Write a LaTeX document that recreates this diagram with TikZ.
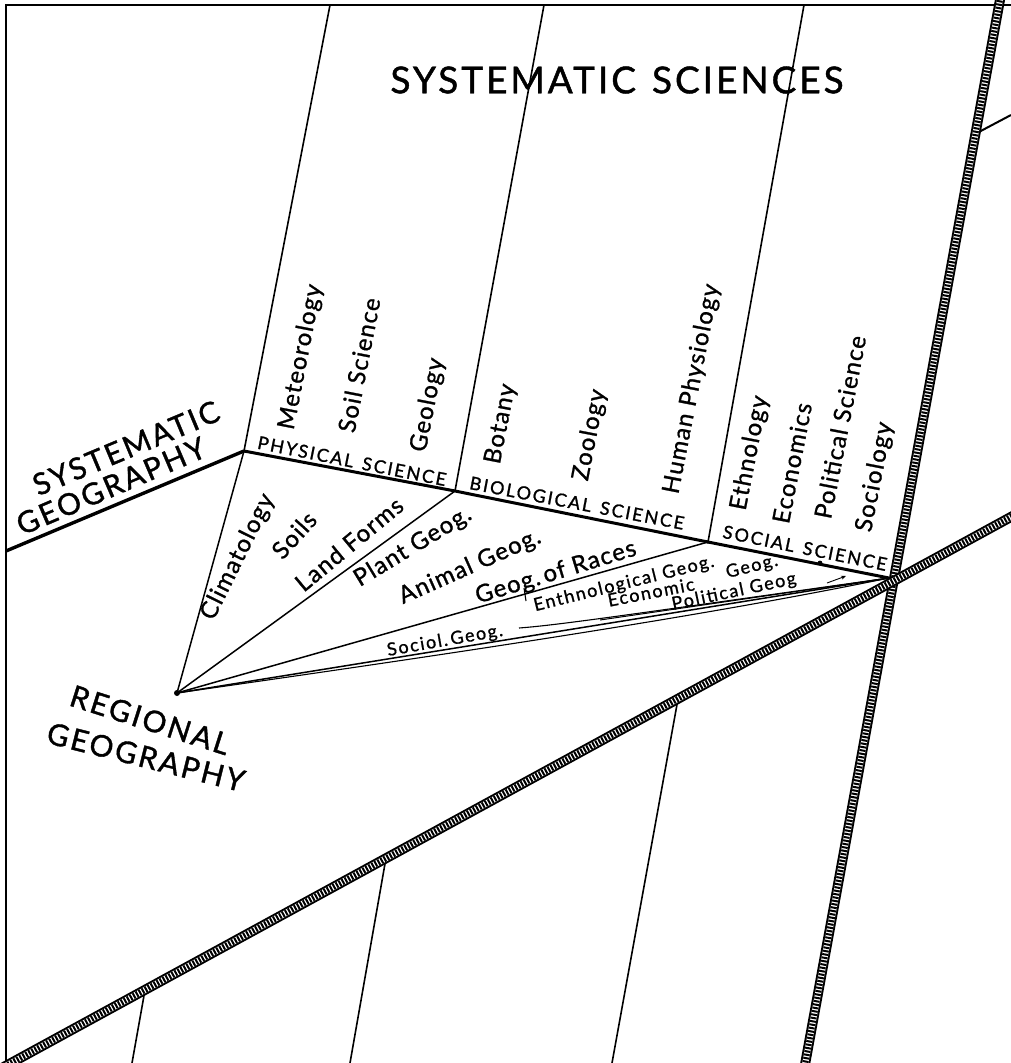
\documentclass[tikz,border=0pt]{standalone}
\usepackage{fontspec}
\setmainfont{Lato}
\newfontfamily\capfont[LetterSpace=8,FakeBold=1.2]{Lato}
\newfontfamily\smcapfont[LetterSpace=11,FakeBold=1.2]{Lato}
\newfontfamily\labfont[LetterSpace=5,FakeBold=1.0]{Lato}
\newfontfamily\smlabfont[LetterSpace=9,FakeBold=1.0]{Lato}
\usetikzlibrary{arrows.meta}
\newcommand\ropeline[2]{%
  \draw[line width=10pt] (#1)--(#2);
  \draw[white,line width=6pt] (#1)--(#2);
  \draw[line width=6pt,dash pattern=on 2pt off 1.4pt] (#1)--(#2);}
\tikzset{
  frameline/.style={line width=2.4pt},
  thinline/.style={line width=1.6pt},
  boldline/.style={line width=3pt, line join=round},
  fanline/.style={line width=1.5pt},
  bigcap/.style={inner sep=0pt, font=\capfont\fontsize{37}{37}\selectfont},
  geo/.style={inner sep=0pt, font=\capfont\fontsize{30}{30}\selectfont},
  sci/.style={inner sep=0pt, font=\smcapfont\fontsize{18}{18}\selectfont},
  lab/.style={inner sep=0pt, font=\labfont\fontsize{24}{24}\selectfont},
  smlab/.style={inner sep=0pt, font=\smlabfont\fontsize{18}{18}\selectfont},
}
\begin{document}
\begin{tikzpicture}[x=1pt,y=-1pt]
\useasboundingbox (0,0) rectangle (1011,1063);
\clip (0,0) rectangle (1011,1063);
% key points
\coordinate (P) at (244,451);
\coordinate (Q) at (455,491);
\coordinate (S) at (708,542);
\coordinate (C) at (889,578);
\coordinate (R) at (177,693);
\coordinate (SG) at (6,551);
\coordinate (T1) at (330,5);
\coordinate (T2) at (544,5);
\coordinate (T3) at (804,5);
\coordinate (FTL) at (6,5);
\coordinate (FTR) at (1011,5);
\coordinate (FBL) at (6,1063);
\coordinate (RR1) at (1000.5,-3);
\coordinate (RR2) at (804,1070);
\coordinate (DR1) at (-10,1074.5);
\coordinate (DR2) at (1020,512);
\coordinate (TR1) at (977,133);
\coordinate (TR2) at (1011,115);
\coordinate (B1a) at (145,990);
\coordinate (B1b) at (132,1063);
\coordinate (B2a) at (386,858);
\coordinate (B2b) at (350,1063);
\coordinate (B3a) at (678,699);
\coordinate (B3b) at (612,1063);
\coordinate (SocS) at (519,628);
\coordinate (TickA) at (524,588);
\coordinate (TickB) at (526,601);
\coordinate (ArrS) at (827,583);
\coordinate (ArrE) at (846,576);
\coordinate (Dot) at (820,563);
% frame
\draw[frameline] (FBL) -- (FTL) -- (FTR);
% thin divisions
\draw[thinline] (T1) -- (P);
\draw[thinline] (T2) -- (Q);
\draw[thinline] (T3) -- (S);
\draw[thinline] (B1a) -- (B1b);
\draw[thinline] (B2a) -- (B2b);
\draw[thinline] (B3a) -- (B3b);
\draw[line width=2pt] (TR1) -- (TR2);
% bold lines
\draw[line width=3.4pt] (SG) -- (P);
\draw[boldline] (P) -- (Q) -- (S) -- (C);
% fan
\draw[fanline] (R) -- (P);
\draw[fanline] (R) -- (Q);
\draw[fanline] (R) -- (S);
\draw[fanline] (R) -- (C);
\draw[line width=1.1pt] (R) .. controls (450,654) and (700,617) .. (C);
\draw[line width=1.1pt] (SocS) .. controls (560,625) and (640,613) .. (C);
\draw[line width=1pt] (600,620) -- (C);
\draw[line width=1.1pt] (TickA) -- (TickB);
\draw[line width=0.9pt,-{Stealth[length=5pt,width=4pt]}] (ArrS) -- (ArrE);
\fill (R) circle (3pt);
\fill (Dot) circle (2.4pt);
\fill (S) circle (1.8pt);
% ropes
\ropeline{RR1}{RR2}
\ropeline{DR1}{DR2}
% texts
\node[bigcap] (title) at (617,80) {SYSTEMATIC\hspace{16pt}SCIENCES};
\node[geo,rotate=22.7] (sg1) at (126,448) {SYSTEMATIC};
\node[geo,rotate=23.2] (sg2) at (111,486) {GEOGRAPHY};
\node[geo,rotate=-17.7] (rg1) at (150,720) {REGIONAL};
\node[geo,rotate=-14.1] (rg2) at (146,757) {GEOGRAPHY};
\node[sci,rotate=-11.3] (phys) at (352,461) {PHYSICAL\hspace{9pt}SCIENCE};
\node[sci,rotate=-10.8] (biol) at (577,503) {BIOLOGICAL\hspace{9pt}SCIENCE};
\node[sci,rotate=-11.5] (soc) at (805,548) {SOCIAL\hspace{9pt}SCIENCE};
\node[lab,rotate=79] (met) at (301,357) {Meteorology};
\node[lab,rotate=79] (soil) at (359,365) {Soil Science};
\node[lab,rotate=79] (geol) at (428,405) {Geology};
\node[lab,rotate=79] (bot) at (501,424) {Botany};
\node[lab,rotate=79] (zoo) at (590,435) {Zoology};
\node[lab,rotate=79] (hum) at (692,389) {Human Physiology};
\node[lab,rotate=79] (eth) at (750,453) {Ethnology};
\node[lab,rotate=79] (eco) at (792,463) {Economics};
\node[lab,rotate=79] (pol) at (840,427) {Political Science};
\node[lab,rotate=79] (socl) at (875,477) {Sociology};
\node[lab,rotate=63.6] (clim) at (238,557) {Climatology};
\node[lab,rotate=48] (soils) at (294,535) {Soils};
\node[lab,rotate=39.7] (land) at (349,544) {Land Forms};
\node[lab,rotate=31.3] (plant) at (413,547) {Plant Geog.};
\node[lab,rotate=24] (anim) at (470,567) {Animal Geog.};
\node[lab,rotate=17] (races) at (556,573) {Geog.\,of Races};
\node[smlab,rotate=14] (enth) at (624,584) {Enthnological Geog.};
\node[smlab,rotate=11] (econ) at (651,592) {Economic};
\node[smlab,rotate=14] (econg) at (752,567) {Geog.};
\node[smlab,rotate=12] (polg) at (734,592) {Political Geog};
\node[smlab,rotate=10] (sociol) at (445,641) {Sociol.\,Geog.};
\end{tikzpicture}
\end{document}
